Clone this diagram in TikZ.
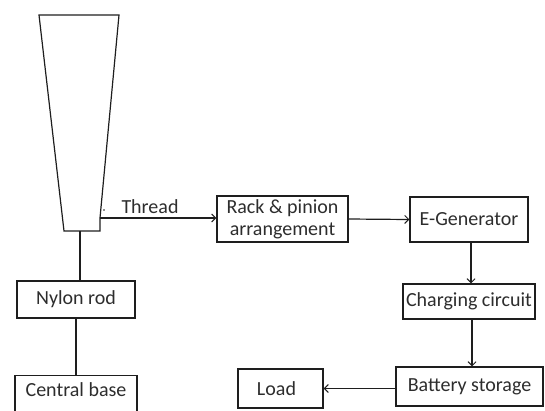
\documentclass[tikz,border=0pt]{standalone}
\usepackage{fontspec}
\setmainfont{Carlito}
\usetikzlibrary{arrows.meta}
\definecolor{ink}{RGB}{30,30,30}
\definecolor{txt}{RGB}{45,45,45}
\begin{document}
\begin{tikzpicture}[x=1pt,y=-1pt,line width=1.2pt,draw=ink,
  box/.style={draw=ink,inner sep=0pt,text=txt,font=\fontsize{20}{22}\selectfont,align=center},
  lbl/.style={inner sep=0pt,text=txt,font=\fontsize{20}{22}\selectfont},
  arr/.style={-{Straight Barb[length=4pt,width=8pt,line width=1pt]}}]
\useasboundingbox (0,0) rectangle (545,410);
% bobbin / trapezoid
\coordinate (tl) at (39,15);
\coordinate (tr) at (119,15);
\coordinate (rk) at (100,218);
\coordinate (br) at (100,231);
\coordinate (bl) at (64,231);
\coordinate (bm) at (80,231);
\draw (tl) -- (tr) -- (rk) -- (br) -- (bl) -- cycle;
\fill[ink] (104,210) circle (0.8);
% boxes
\node[box,minimum width=131,minimum height=46] (rack) at (282.5,219) {Rack \& pinion\\arrangement};
\node[box,minimum width=118,minimum height=45] (eg) at (469,219.5) {E-Generator};
\node[box,minimum width=132,minimum height=35] (cc) at (469,301.5) {Charging circuit};
\node[box,minimum width=147,minimum height=39] (bat) at (469.5,386.5) {Battery storage};
\node[box,minimum width=85,minimum height=39] (load) at (280.5,388.5) {\hspace*{-8pt}Load};
\node[box,minimum width=118,minimum height=37] (nylon) at (76,299.5) {Nylon rod};
\node[box,minimum width=122,minimum height=60,anchor=north] (cb) at (76,375) {};
\node[lbl] (cbt) at (76,390) {Central base};
\node[lbl] (thr) at (150,207) {Thread};
% connectors
\draw[arr] (rk) -- (rack.west |- rk);
\draw[arr] (rack.east) -- (eg.west);
\draw[arr] ([xshift=2]eg.south) -- ([xshift=2]eg.south |- cc.north);
\draw[arr] ([xshift=3]cc.south) -- ([xshift=3]cc.south |- bat.north);
\draw[arr] (bat.west |- load.east) -- (load.east);
\draw (bm) -- (bm |- nylon.north);
\draw (nylon.south) -- (cb.north);
\end{tikzpicture}
\end{document}
